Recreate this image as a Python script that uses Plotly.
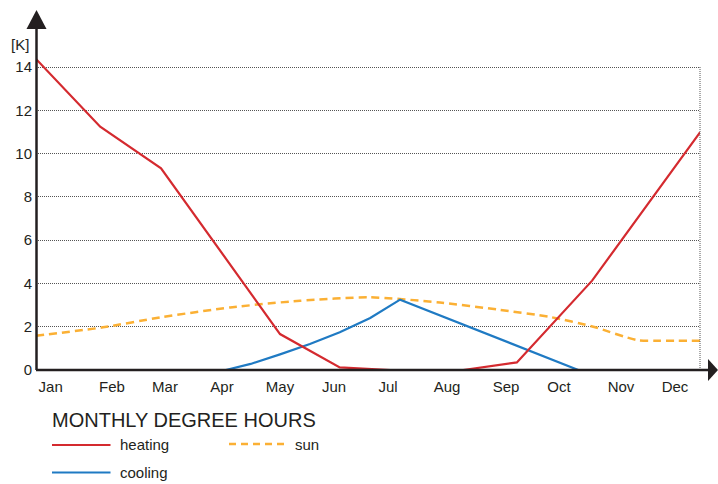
import plotly.graph_objects as go

# ---- data ----
months = ["Jan", "Feb", "Mar", "Apr", "May", "Jun", "Jul", "Aug", "Sep", "Oct", "Nov", "Dec"]
month_pos = [0.265, 1.373, 2.331, 3.361, 4.41, 5.386, 6.361, 7.428, 8.494, 9.452, 10.572, 11.548]

heating_x = [0, 1.16, 2.26, 4.41, 5.49, 6.40, 7.72, 8.69, 10.05, 12]
heating = [14.37, 11.24, 9.32, 1.66, 0.12, 0.0, 0.0, 0.35, 4.13, 10.98]

cooling_x = [3.43, 3.88, 4.41, 4.95, 5.49, 6.04, 6.58, 9.80]
cooling = [0.0, 0.28, 0.72, 1.2, 1.74, 2.4, 3.25, 0.0]

sun_x = [0, 1.21, 2.24, 3.51, 4.77, 6.03, 7.30, 8.38, 9.29, 10.07, 10.86, 11.28, 12]
sun = [1.58, 1.97, 2.43, 2.89, 3.2, 3.36, 3.12, 2.78, 2.45, 2.0, 1.38, 1.35, 1.35]

y_ticks = [0, 2, 4, 6, 8, 10, 12, 14]

# ---- style ----
RED = "#d42a2f"
BLUE = "#1f7ac3"
ORANGE = "#fbb034"
TXT = "#231f20"
FONT = "Liberation Sans, Arial, sans-serif"

W, H = 718, 484
L, R, T, B = 36, 18, 20, 114
PW, PH = W - L - R, H - T - B


def px(xp):
    return (xp - L) / PW


def py(yp):
    return (H - B - yp) / PH


fig = go.Figure()
fig.add_trace(go.Scatter(x=sun_x, y=sun, mode="lines", name="sun",
                         line=dict(color=ORANGE, width=2.5, dash="8px,5px", shape="spline", smoothing=0.6)))
fig.add_trace(go.Scatter(x=cooling_x, y=cooling, mode="lines", name="cooling",
                         line=dict(color=BLUE, width=2.2)))
fig.add_trace(go.Scatter(x=heating_x, y=heating, mode="lines", name="heating",
                         line=dict(color=RED, width=2.2)))

ymax = 14 / py(67)

shapes = []
# right dotted border
shapes.append(dict(type="line", xref="paper", yref="y", x0=1, x1=1, y0=0, y1=14,
                   line=dict(color="#555", width=1, dash="1px,1px")))
# y axis line + arrow
shapes.append(dict(type="line", xref="paper", yref="paper", x0=px(36.5), x1=px(36.5), y0=0, y1=py(28),
                   line=dict(color=TXT, width=2.5)))
shapes.append(dict(type="path", xref="paper", yref="paper",
                   path=f"M {px(36.5)},{py(10)} L {px(26.5)},{py(29)} L {px(46.5)},{py(29)} Z",
                   fillcolor=TXT, line=dict(color=TXT, width=0)))
# x axis line + arrow
shapes.append(dict(type="line", xref="paper", yref="paper", x0=px(36), x1=px(709), y0=0, y1=0,
                   line=dict(color=TXT, width=2.5)))
shapes.append(dict(type="path", xref="paper", yref="paper",
                   path=f"M {px(718)},{py(370)} L {px(708)},{py(359)} L {px(708)},{py(381)} Z",
                   fillcolor=TXT, line=dict(color=TXT, width=0)))
# legend samples
shapes.append(dict(type="line", xref="paper", yref="paper", x0=px(52), x1=px(110.5), y0=py(445), y1=py(445),
                   line=dict(color=RED, width=2.2)))
shapes.append(dict(type="line", xref="paper", yref="paper", x0=px(229), x1=px(287), y0=py(444), y1=py(444),
                   line=dict(color=ORANGE, width=2.5, dash="7px,5px")))
shapes.append(dict(type="line", xref="paper", yref="paper", x0=px(52), x1=px(110.5), y0=py(472.5), y1=py(472.5),
                   line=dict(color=BLUE, width=2.2)))

annotations = [
    dict(text="[K]", xref="paper", yref="paper", x=px(31), y=py(45), xanchor="right", yanchor="middle",
         showarrow=False, font=dict(family=FONT, size=15, color=TXT)),
    dict(text="MONTHLY DEGREE HOURS", xref="paper", yref="paper", x=px(50), y=py(420), xanchor="left",
         yanchor="middle", showarrow=False, font=dict(family=FONT, size=20, color=TXT)),
    dict(text="heating", xref="paper", yref="paper", x=px(118), y=py(445), xanchor="left",
         yanchor="middle", showarrow=False, font=dict(family=FONT, size=15, color=TXT)),
    dict(text="sun", xref="paper", yref="paper", x=px(293), y=py(444), xanchor="left",
         yanchor="middle", showarrow=False, font=dict(family=FONT, size=15, color=TXT)),
    dict(text="cooling", xref="paper", yref="paper", x=px(118), y=py(472.5), xanchor="left",
         yanchor="middle", showarrow=False, font=dict(family=FONT, size=15, color=TXT)),
]

fig.update_layout(
    width=W, height=H,
    margin=dict(l=L, r=R, t=T, b=B),
    paper_bgcolor="white", plot_bgcolor="white",
    showlegend=False,
    font=dict(family=FONT, size=15, color=TXT),
    shapes=shapes,
    annotations=annotations,
    xaxis=dict(range=[0, 12], tickmode="array", tickvals=month_pos, ticktext=months,
               showgrid=False, zeroline=False, showline=False, ticks="",
               ticklabelstandoff=6, tickfont=dict(family=FONT, size=15, color=TXT)),
    yaxis=dict(range=[0, ymax], tickmode="array", tickvals=y_ticks,
               showgrid=True, gridcolor="#555", gridwidth=1, griddash="1px,1px",
               zeroline=False, showline=False, ticks="",
               ticklabelstandoff=3, tickfont=dict(family=FONT, size=15, color=TXT)),
)

fig.write_html("out.html", config={"displayModeBar": False},
               post_script="document.body.style.margin='0';document.body.style.overflow='hidden';")
